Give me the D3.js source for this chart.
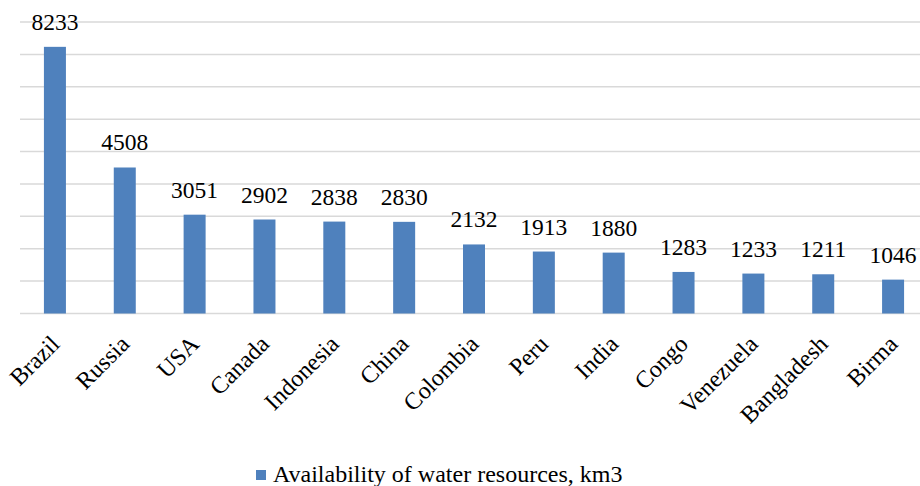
<!DOCTYPE html>
<html>
<head>
<meta charset="utf-8">
<script src="https://cdn.jsdelivr.net/npm/d3@7"></script>
<style>
  html, body { margin: 0; padding: 0; background: #fff; }
  svg { display: block; }
</style>
</head>
<body>
<svg id="chart" width="920" height="486"></svg>
<script>
// Renewable water resources by country, km3
const countries = ["Brazil", "Russia", "USA", "Canada", "Indonesia", "China", "Colombia",
                   "Peru", "India", "Congo", "Venezuela", "Bangladesh", "Birma"];
const waterKm3 = [8233, 4508, 3051, 2902, 2838, 2830, 2132, 1913, 1880, 1283, 1233, 1211, 1046];
const gridTicks = [0, 1000, 2000, 3000, 4000, 5000, 6000, 7000, 8000, 9000];
const seriesName = "Availability of water resources, km3";

const serif = "'Liberation Serif', 'Times New Roman', 'DejaVu Serif', serif";

const svg = d3.select("#chart")
  .attr("font-family", serif)
  .style("font-family", serif);
const plot = { left: 20, right: 928, top: 22, bottom: 313.5 };

const x = d3.scaleBand()
  .domain(countries)
  .range([plot.left, plot.right])
  .paddingInner(0.685)
  .paddingOuter(0.3425);

const y = d3.scaleLinear()
  .domain([0, 9000])
  .range([plot.bottom, plot.top]);

// horizontal gridlines
svg.append("g")
  .selectAll("line")
  .data(gridTicks)
  .join("line")
  .attr("x1", plot.left)
  .attr("x2", 920)
  .attr("y1", d => y(d))
  .attr("y2", d => y(d))
  .attr("stroke", "#d9d9d9")
  .attr("stroke-width", 1.5);

// bars
svg.append("g")
  .selectAll("rect")
  .data(countries)
  .join("rect")
  .attr("x", d => x(d))
  .attr("width", x.bandwidth())
  .attr("y", (d, i) => y(waterKm3[i]))
  .attr("height", (d, i) => y(0) - y(waterKm3[i]))
  .attr("fill", "#4f81bd");

// value labels
svg.append("g")
  .selectAll("text")
  .data(countries)
  .join("text")
  .attr("x", d => x(d) + x.bandwidth() / 2)
  .attr("y", (d, i) => y(waterKm3[i]) - 17)
  .attr("text-anchor", "middle")
  .attr("font-size", 23.5)
  .style("font-family", serif)
  .text((d, i) => waterKm3[i]);

// category labels, rotated
svg.append("g")
  .selectAll("text")
  .data(countries)
  .join("text")
  .attr("text-anchor", "end")
  .attr("font-size", 24)
  .style("font-family", serif)
  .attr("transform", d => `translate(${x(d) + x.bandwidth() / 2 + 6},${plot.bottom + 32}) rotate(-45)`)
  .text(d => d);

// legend
const legend = svg.append("g").attr("transform", "translate(256,470)");
legend.append("rect")
  .attr("width", 10)
  .attr("height", 10)
  .attr("fill", "#4f81bd");
legend.append("text")
  .attr("x", 17)
  .attr("y", 12)
  .attr("font-size", 24)
  .style("font-family", serif)
  .text(seriesName);
</script>
</body>
</html>
